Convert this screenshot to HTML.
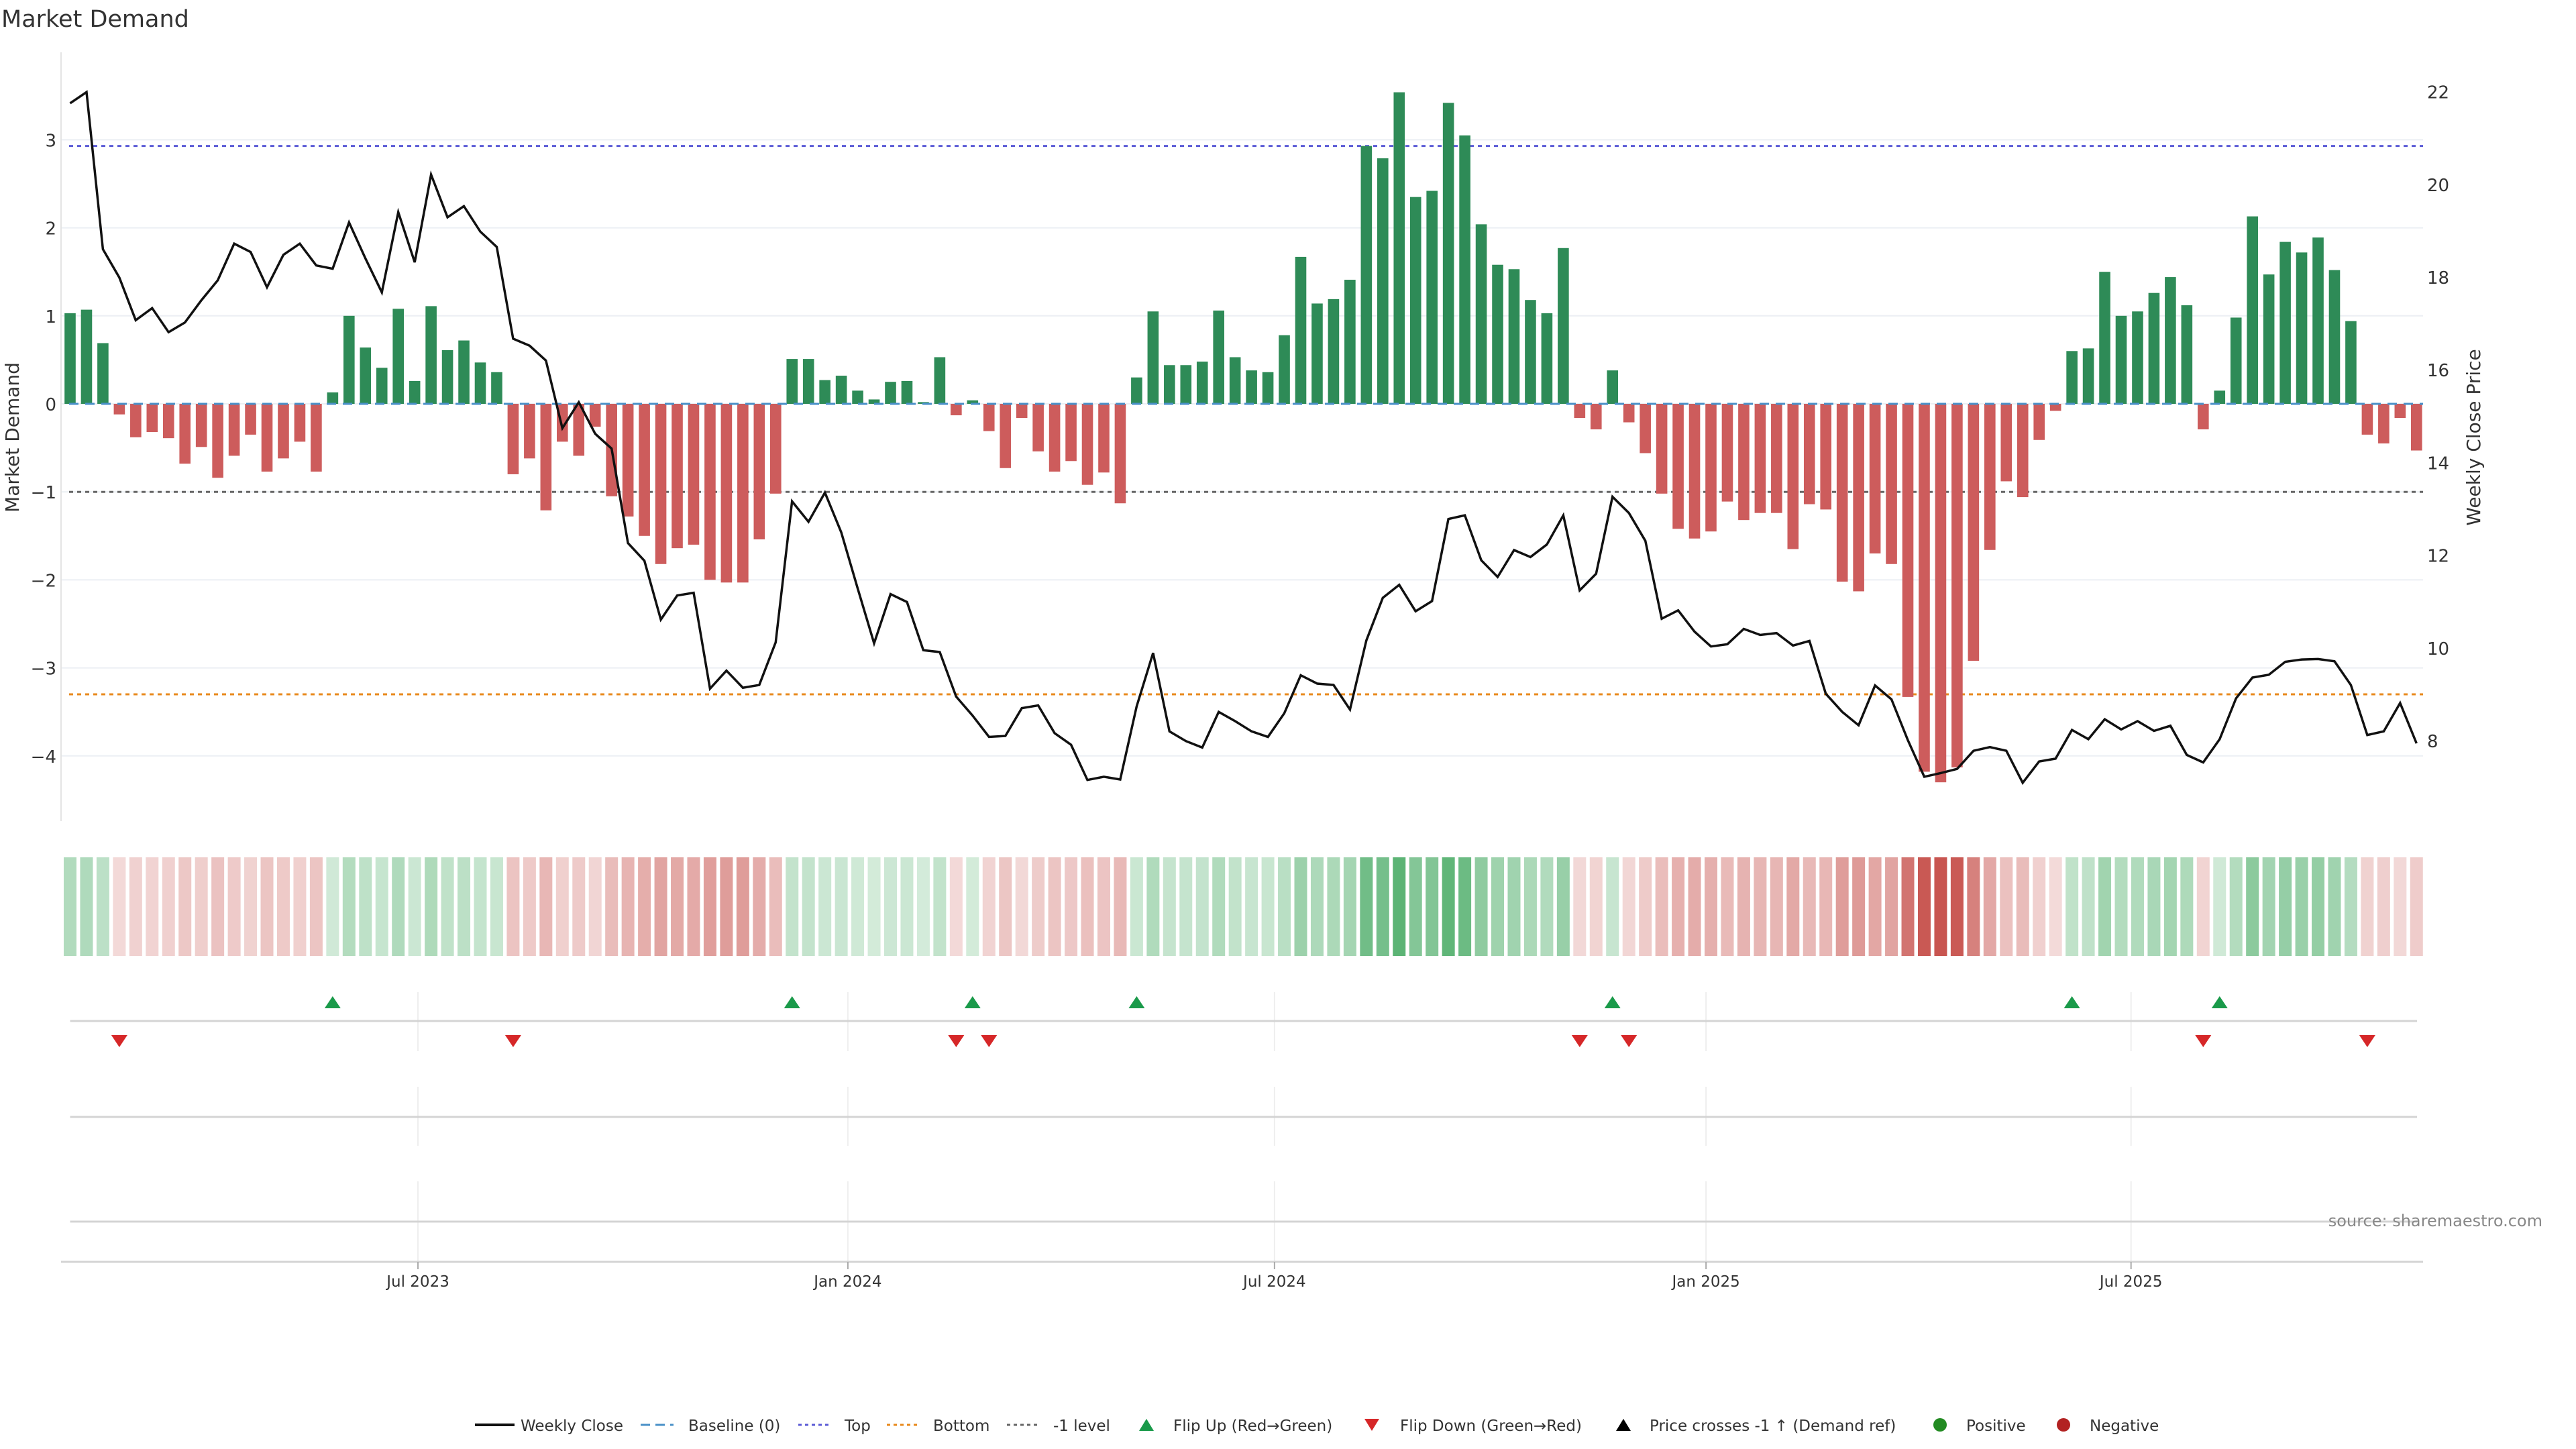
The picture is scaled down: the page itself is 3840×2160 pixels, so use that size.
<!DOCTYPE html>
<html><head><meta charset="utf-8"><style>
html,body{margin:0;padding:0;background:#fff;}
svg{display:block;font-family:"DejaVu Sans","Liberation Sans",sans-serif;}
</style></head><body>
<svg id="chart" width="3840" height="2160" viewBox="0 0 3840 2160" xmlns="http://www.w3.org/2000/svg">
<text x="2" y="40" font-size="35" fill="#333">Market Demand</text>
<g id="grid"></g><g id="refs"></g><g id="bars"></g><g id="baseline"></g><g id="price"></g><g id="heat"></g><g id="markers"></g><g id="axes"></g><g id="legend"></g>
<text transform="translate(28,652) rotate(-90)" text-anchor="middle" font-size="28" fill="#333">Market Demand</text>
<text transform="translate(3697,652) rotate(-90)" text-anchor="middle" font-size="28" fill="#333">Weekly Close Price</text>
<text x="3790" y="1828" text-anchor="end" font-size="24" fill="#888">source: sharemaestro.com</text>
</svg>
<script>
const demand=[1.03,1.07,0.69,-0.12,-0.38,-0.32,-0.39,-0.68,-0.49,-0.84,-0.59,-0.35,-0.77,-0.62,-0.43,-0.77,0.13,1.0,0.64,0.41,1.08,0.26,1.11,0.61,0.72,0.47,0.36,-0.8,-0.62,-1.21,-0.43,-0.59,-0.26,-1.05,-1.28,-1.5,-1.82,-1.64,-1.6,-2.0,-2.03,-2.03,-1.54,-1.02,0.51,0.51,0.27,0.32,0.15,0.05,0.25,0.26,0.02,0.53,-0.13,0.04,-0.31,-0.73,-0.16,-0.54,-0.77,-0.65,-0.92,-0.78,-1.13,0.3,1.05,0.44,0.44,0.48,1.06,0.53,0.38,0.36,0.78,1.67,1.14,1.19,1.41,2.93,2.79,3.54,2.35,2.42,3.42,3.05,2.04,1.58,1.53,1.18,1.03,1.77,-0.16,-0.29,0.38,-0.21,-0.56,-1.02,-1.42,-1.53,-1.45,-1.11,-1.32,-1.24,-1.24,-1.65,-1.14,-1.2,-2.02,-2.13,-1.7,-1.82,-3.33,-4.18,-4.3,-4.13,-2.92,-1.66,-0.88,-1.06,-0.41,-0.08,0.6,0.63,1.5,1.0,1.05,1.26,1.44,1.12,-0.29,0.15,0.98,2.13,1.47,1.84,1.72,1.89,1.52,0.94,-0.35,-0.45,-0.16,-0.53];
const closes=[21.75,21.99,18.6,17.99,17.07,17.33,16.81,17.02,17.5,17.93,18.72,18.54,17.78,18.48,18.72,18.25,18.18,19.18,18.4,17.67,19.4,18.32,20.21,19.29,19.53,18.98,18.65,16.67,16.52,16.2,14.74,15.3,14.62,14.3,12.26,11.88,10.61,11.13,11.19,9.12,9.51,9.14,9.2,10.12,13.16,12.72,13.35,12.49,11.28,10.1,11.16,10.99,9.95,9.91,8.95,8.54,8.08,8.1,8.7,8.76,8.16,7.91,7.15,7.22,7.16,8.74,9.89,8.2,7.99,7.85,8.62,8.42,8.2,8.08,8.59,9.41,9.23,9.2,8.67,10.16,11.08,11.36,10.79,11.01,12.78,12.86,11.89,11.53,12.11,11.96,12.23,12.86,11.24,11.6,13.26,12.91,12.31,10.63,10.81,10.35,10.03,10.08,10.41,10.28,10.32,10.05,10.15,9.01,8.62,8.33,9.19,8.89,8.01,7.22,7.3,7.39,7.78,7.86,7.78,7.09,7.55,7.61,8.23,8.03,8.46,8.24,8.42,8.21,8.32,7.69,7.53,8.03,8.91,9.36,9.42,9.7,9.75,9.76,9.71,9.2,8.12,8.2,8.81,7.94];
const leftTicks=[3,2,1,0,-1,-2,-3,-4];
const rightTicks=[22,20,18,16,14,12,10,8];
const xTickLabels=["Jul 2023","Jan 2024","Jul 2024","Jan 2025","Jul 2025"];
const xTickWeeks=[21.2,47.4,73.4,99.7,125.6];
const topLevel=2.93, bottomLevel=-3.3, minusLevel=-1;

const NS="http://www.w3.org/2000/svg";
function mk(tag,attrs,parent){const e=document.createElementNS(NS,tag);for(const k in attrs)e.setAttribute(k,attrs[k]);document.getElementById(parent).appendChild(e);return e;}
const X0=104.5, DX=24.46;
const xs=i=>X0+DX*i;
const yL=v=>602-131.2*v;
const yR=p=>1104-69.1*(p-8);
const PL=91, PR=3612;

leftTicks.forEach(t=>{
 const g=mk('line',{x1:PL,x2:PR,y1:yL(t),y2:yL(t),stroke:'#eceff4','stroke-width':2},'grid');
 
 
 const tx=mk('text',{x:84,y:yL(t)+10,'text-anchor':'end','font-size':26,fill:'#333'},'axes');
 tx.textContent=(t<0?'\u2212':'')+Math.abs(t);
 
 
});
rightTicks.forEach(t=>{
 const tx=mk('text',{x:3618,y:yR(t)+10,'font-size':26,fill:'#333'},'axes');
 tx.textContent=t;
 
 
});
const ax=mk('line',{x1:PL,x2:PL,y1:78,y2:1224,stroke:'#e4e4e4','stroke-width':2},'axes');



[[topLevel,'#5b5bd6','top-line'],[bottomLevel,'#e8891c','bottom-line'],[minusLevel,'#666','minus-one-level-line']].forEach(r=>{
 const l=mk('line',{x1:PL+12,x2:PR,y1:yL(r[0]),y2:yL(r[0]),stroke:r[1],'stroke-width':3,'stroke-dasharray':'6,6'},'refs');
 
 
});

const BW=16.6;
demand.forEach((v,i)=>{
 const y=Math.min(yL(v),yL(0)), h=Math.abs(yL(v)-yL(0));
 const b=mk('rect',{x:xs(i)-BW/2,y:y,width:BW,height:Math.max(h,1),fill:v>=0?'#2e8b57':'#cd5c5c'},'bars');
 
 
});
const bl=mk('line',{x1:PL+12,x2:PR,y1:yL(0),y2:yL(0),stroke:'#4a90c8','stroke-width':3,'stroke-dasharray':'14,10'},'baseline');



const pts=closes.map((p,i)=>xs(i).toFixed(1)+','+yR(p).toFixed(1)).join(' ');
const pl=mk('polyline',{points:pts,fill:'none',stroke:'#111','stroke-width':3.5,'stroke-linejoin':'miter'},'price');



demand.forEach((v,i)=>{
 const t=Math.min(Math.abs(v)/4.3,1);
 const fill=v>=0?`rgba(60,165,90,${(0.22+0.75*t).toFixed(3)})`:`rgba(200,85,80,${(0.2+0.8*t).toFixed(3)})`;
 const c=mk('rect',{x:xs(i)-9.5,y:1278,width:19,height:147,fill:fill},'heat');
 
 
});

[[1479,1567],[1620,1708],[1761,1881]].forEach(r=>{
 xTickWeeks.forEach(w=>{
  const g=mk('line',{x1:xs(w),x2:xs(w),y1:r[0],y2:r[1],stroke:'#eeeeee','stroke-width':2},'axes');
  
  
 });
});
[1522,1665,1821].forEach(y=>{
 const l=mk('line',{x1:X0,x2:3603,y1:y,y2:y,stroke:'#d4d4d4','stroke-width':3},'axes');
 
 
});
const xa=mk('line',{x1:PL,x2:PR,y1:1881,y2:1881,stroke:'#d4d4d4','stroke-width':3},'axes');


xTickWeeks.forEach((w,k)=>{
 const tk=mk('line',{x1:xs(w),x2:xs(w),y1:1881,y2:1892,stroke:'#aaa','stroke-width':2},'axes');
 
 
 const tx=mk('text',{x:xs(w),y:1918,'text-anchor':'middle','font-size':23,fill:'#333'},'axes');
 tx.textContent=xTickLabels[k];
 
 
});

for(let i=1;i<demand.length;i++){
 const x=xs(i);
 if(demand[i]>0&&demand[i-1]<=0){
  const m=mk('polygon',{points:`${x-12},1503 ${x+12},1503 ${x},1485`,fill:'#1a9a4a'},'markers');
  
  
 } else if(demand[i]<=0&&demand[i-1]>0){
  const m=mk('polygon',{points:`${x-12},1543 ${x+12},1543 ${x},1561`,fill:'#d62728'},'markers');
  
  
 }
}

const LY=2124;
function ltext(x,s,name){const t=mk('text',{x:x,y:LY+9,'font-size':23,fill:'#333'},'legend');t.textContent=s;}
function lline(x1,x2,col,dash,w,name){const l=mk('line',{x1:x1,x2:x2,y1:LY,y2:LY,stroke:col,'stroke-width':w,'stroke-dasharray':dash},'legend');}
lline(708,767,'#111','none',4,'legend-weekly-close-swatch');ltext(776,'Weekly Close','legend-weekly-close');
lline(955,1004,'#4a90c8','14,8',3,'legend-baseline-swatch');ltext(1026,'Baseline (0)','legend-baseline');
lline(1190,1239,'#5b5bd6','5,5',3,'legend-top-swatch');ltext(1259,'Top','legend-top');
lline(1322,1372,'#e8891c','5,5',3,'legend-bottom-swatch');ltext(1391,'Bottom','legend-bottom');
lline(1501,1550,'#666','5,5',3,'legend-minus-one-swatch');ltext(1570,'-1 level','legend-minus-one');
function ltri(x,up,col,name){const p=up?`${x-11},${LY+9} ${x+11},${LY+9} ${x},${LY-9}`:`${x-11},${LY-9} ${x+11},${LY-9} ${x},${LY+9}`;const m=mk('polygon',{points:p,fill:col},'legend');}
ltri(1709,true,'#1a9a4a','legend-flip-up-swatch');ltext(1749,'Flip Up (Red\u2192Green)','legend-flip-up');
ltri(2045,false,'#d62728','legend-flip-down-swatch');ltext(2087,'Flip Down (Green\u2192Red)','legend-flip-down');
ltri(2420,true,'#000','legend-price-cross-swatch');ltext(2459,'Price crosses -1 \u2191 (Demand ref)','legend-price-cross');
function ldot(x,col,name){const c=mk('circle',{cx:x,cy:LY,r:10,fill:col},'legend');}
ldot(2892,'#228b22','legend-positive-swatch');ltext(2931,'Positive','legend-positive');
ldot(3076,'#b22222','legend-negative-swatch');ltext(3115,'Negative','legend-negative');
</script>
</body></html>
